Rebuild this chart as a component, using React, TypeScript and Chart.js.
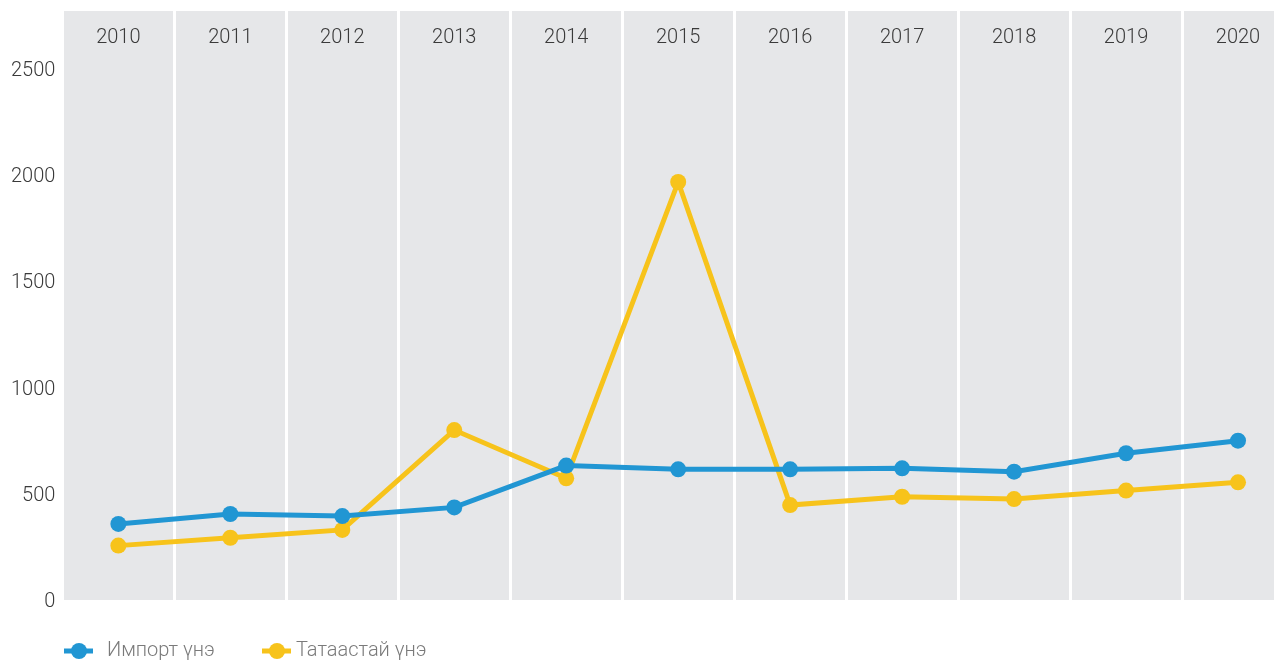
import React, { useEffect, useRef } from "react";
import { Chart, registerables } from "chart.js";

Chart.register(...registerables);

const years = ["2010", "2011", "2012", "2013", "2014", "2015", "2016", "2017", "2018", "2019", "2020"];
const importPrice = [358, 405, 395, 436, 633, 615, 615, 620, 604, 691, 750];
const stockPrice = [256, 293, 330, 800, 573, 1968, 447, 486, 475, 515, 554];
const seriesNames = ["Импорт үнэ", "Татаастай үнэ"];
const seriesColors = ["#2196d3", "#f7c31b"];
const yTicks = [0, 500, 1000, 1500, 2000, 2500];

const FONT = "Roboto";

const backgroundPlugin = {
  id: "plotBackground",
  beforeDraw(chart: any) {
    const { ctx, chartArea } = chart;
    ctx.save();
    ctx.fillStyle = "#e6e7e9";
    ctx.fillRect(chartArea.left, chartArea.top, chartArea.right - chartArea.left, chartArea.bottom - chartArea.top);
    ctx.restore();
  },
};

const topLabelsPlugin = {
  id: "topLabels",
  afterDraw(chart: any) {
    const { ctx, chartArea } = chart;
    const xScale = chart.scales.x;
    ctx.save();
    ctx.font = `300 20px ${FONT}`;
    ctx.fillStyle = "#3a3a3a";
    ctx.textAlign = "center";
    ctx.textBaseline = "middle";
    (chart.data.labels as string[]).forEach((lab, i) => {
      ctx.fillText(lab, xScale.getPixelForValue(i), chartArea.top + 27);
    });
    ctx.restore();
  },
};

const legendPlugin = {
  id: "customLegend",
  afterDraw(chart: any) {
    const { ctx } = chart;
    const y = chart.chartArea.bottom + 51;
    const starts = [56, 254];
    const textGap = [43, 34];
    ctx.save();
    ctx.font = `300 20px ${FONT}`;
    ctx.textBaseline = "middle";
    ctx.textAlign = "left";
    chart.data.datasets.forEach((ds: any, i: number) => {
      const x0 = starts[i];
      ctx.strokeStyle = ds.borderColor;
      ctx.lineWidth = 5;
      ctx.beginPath();
      ctx.moveTo(x0, y);
      ctx.lineTo(x0 + 29, y);
      ctx.stroke();
      ctx.fillStyle = ds.borderColor;
      ctx.beginPath();
      ctx.arc(x0 + 15, y, 8, 0, Math.PI * 2);
      ctx.fill();
      ctx.fillStyle = "#7a7a7a";
      ctx.fillText(ds.label, x0 + textGap[i], y);
    });
    ctx.restore();
  },
};

export default function App() {
  const canvasRef = useRef<HTMLCanvasElement | null>(null);

  useEffect(() => {
    document.documentElement.style.overflow = "hidden";
    document.body.style.overflow = "hidden";
    const canvas = canvasRef.current;
    if (!canvas) return;
    const chart = new Chart(canvas, {
      type: "line",
      data: {
        labels: years,
        datasets: [
          {
            label: seriesNames[0],
            data: importPrice,
            borderColor: seriesColors[0],
            backgroundColor: seriesColors[0],
            borderWidth: 5,
            pointRadius: 8,
            pointHoverRadius: 8,
            pointBorderWidth: 0,
            tension: 0,
          },
          {
            label: seriesNames[1],
            data: stockPrice,
            borderColor: seriesColors[1],
            backgroundColor: seriesColors[1],
            borderWidth: 5,
            pointRadius: 8,
            pointHoverRadius: 8,
            pointBorderWidth: 0,
            tension: 0,
          },
        ],
      },
      options: {
        animation: false,
        responsive: false,
        maintainAspectRatio: false,
        layout: { padding: { left: -4, right: 1, top: 0, bottom: 61 } },
        plugins: {
          legend: { display: false },
          tooltip: { enabled: false },
        },
        scales: {
          x: {
            type: "category",
            offset: true,
            border: { display: false },
            grid: { color: "#ffffff", lineWidth: 3, offset: true, drawTicks: false },
            ticks: { display: false },
          },
          y: {
            min: 0,
            max: 2773,
            border: { display: false },
            grid: { display: false, drawTicks: false },
            afterBuildTicks: (scale: any) => {
              scale.ticks = yTicks.map((v) => ({ value: v }));
            },
            ticks: {
              padding: 7,
              labelOffset: 2,
              color: "#3a3a3a",
              font: { family: FONT, size: 20, weight: 300 as any, lineHeight: 0.3 },
              callback: (v: any) => String(v),
            },
          },
        },
      },
      plugins: [backgroundPlugin, topLabelsPlugin, legendPlugin],
    });
    return () => chart.destroy();
  }, []);

  return (
    <div style={{ width: 1294, height: 660, marginTop: -7 }}>
      <canvas ref={canvasRef} width={1294} height={660} style={{ display: "block", width: 1294, height: 660 }} />
    </div>
  );
}
